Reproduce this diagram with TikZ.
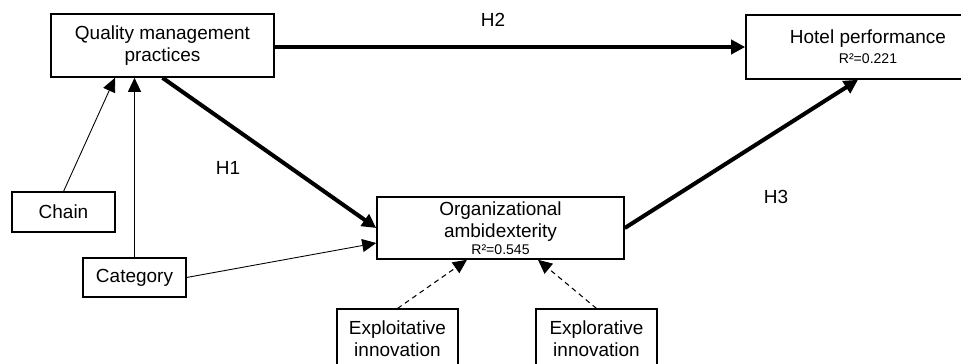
\documentclass[tikz,border=0pt]{standalone}
\usepackage{fontspec}
\setmainfont{Liberation Sans}
\usetikzlibrary{
	arrows.meta,
	positioning,
	calc
}
\tikzset{
	constructo/.style={
		draw,
		line width=0.9pt,
		align=center,
		inner sep=1pt,
		font=\fontsize{10.8}{12.5}\selectfont
	},
	control/.style={
		draw,
		line width=0.6pt,
		align=center,
		inner sep=1pt,
		font=\fontsize{10.8}{12.5}\selectfont
	},
	hipotesis/.style={
		font=\fontsize{10.8}{12.5}\selectfont
	},
	flecha/.style={
		-{Triangle[length=2.8mm,width=2.8mm]},
		line width=2.3pt
	},
	flechaFina/.style={
		-{Triangle[length=2.8mm,width=2.6mm]},
		line width=0.5pt
	},
	flechaPunteada/.style={
		-{Triangle[length=2.8mm,width=2.6mm]},
		line width=0.6pt,
		dash pattern=on 1mm off 0.8mm
	}
}
\newcommand{\rcuadrado}[1]{{\fontsize{8}{9}\selectfont R²=#1}}

\begin{document}
\begin{tikzpicture}
		\useasboundingbox (0,0) rectangle (19.22,7.26);
		% constructos
		\node[constructo, minimum width=4.46cm, minimum height=1.26cm] (practicas) at (3.25,6.35) {Quality management\\practices};
		\node[constructo, minimum width=4.88cm, minimum height=1.28cm] (desempeno) at (17.36,6.32) {Hotel performance\\[-1pt]\rcuadrado{0.221}};
		\node[constructo, minimum width=4.94cm, minimum height=1.24cm] (ambidestreza) at (10.01,2.70) {Organizational\\ambidexterity\\[-3pt]\rcuadrado{0.545}};
		% controles
		\node[control, minimum width=2.06cm, minimum height=0.80cm] (cadena) at (1.27,3.02) {Chain};
		\node[control, minimum width=2.06cm, minimum height=0.78cm] (categoria) at (2.69,1.71) {Category};
		\node[control, minimum width=2.42cm, minimum height=1.20cm] (explotacion) at (7.95,0.48) {Exploitative\\innovation};
		\node[control, minimum width=2.42cm, minimum height=1.20cm] (exploracion) at (11.93,0.48) {Explorative\\innovation};
		% hipotesis
		\node[hipotesis] (h1) at (4.56,3.90) {H1};
		\node[hipotesis] (h2) at (9.86,6.86) {H2};
		\node[hipotesis] (h3) at (15.52,3.32) {H3};
		\draw[flecha] (practicas.south) -- (ambidestreza.west);
		\draw[flecha] (practicas.east |- desempeno.west) -- (desempeno.west);
		\draw[flecha] (ambidestreza.east) -- ([xshift=-0.2cm]desempeno.south);
		\draw[flechaFina] (cadena.north) -- ([xshift=-0.95cm]practicas.south);
		\draw[flechaFina] (categoria.north) -- (categoria.north |- practicas.south);
		\draw[flechaFina] (categoria.east) -- ([yshift=-0.3cm]ambidestreza.west);
		\draw[flechaPunteada] (explotacion.north) -- ([xshift=-0.67cm]ambidestreza.south);
		\draw[flechaPunteada] (exploracion.north) -- ([xshift=0.75cm]ambidestreza.south);
	\end{tikzpicture}
\end{document}
